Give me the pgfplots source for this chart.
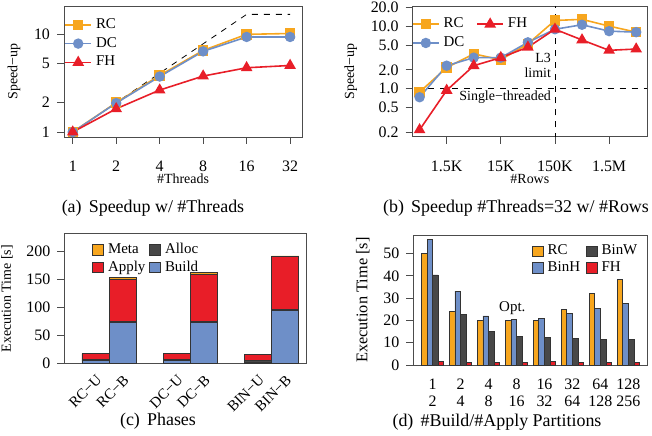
\documentclass[border=0pt]{standalone}
\usepackage{fontspec}
\setmainfont{Liberation Serif}
\usepackage{pgfplots}
\pgfplotsset{compat=1.18}
\definecolor{rcc}{RGB}{247,166,30}
\definecolor{dcc}{RGB}{110,143,200}
\definecolor{fhc}{RGB}{232,30,40}
\definecolor{gry}{RGB}{72,72,72}
\pgfplotsset{base/.style={scale only axis, anchor=north west,
  axis line style={black!70}, tick style={black!70, thin}, tick align=outside,
  major tick length=3.5bp, xtick pos=bottom, ytick pos=left,
  tick label style={font=\fontsize{8}{9}\selectfont},
  label style={font=\fontsize{7}{8}\selectfont},
  /pgf/number format/assume math mode=true,
  legend style={draw=none, fill=none, font=\fontsize{7.5}{8}\selectfont},
  legend cell align=left},
  ln/.style={line width=0.8pt, mark size=2.2pt},
  li/.style={legend image code/.code={\draw[mark repeat=2,mark phase=2,##1] plot coordinates {(0bp,0bp)(6.5bp,0bp)(13bp,0bp)};}},
  sq/.style={legend image code/.code={\draw[##1] (0bp,-2.7bp) rectangle (5.4bp,2.7bp);}}}
\begin{document}
\begin{tikzpicture}
\useasboundingbox (0,0) rectangle (326bp,-218bp);
% (a)
\begin{axis}[base, at={(32bp,-3bp)}, width=119bp, height=65.5bp,
  xmode=log, log basis x=2, ymode=log,
  xmin=0.87, xmax=38.7, ymin=0.89, ymax=19.5,
  xtick={1,2,4,8,16,32}, xticklabels={1,2,4,8,16,32},
  xticklabel style={yshift=-5bp},
  ytick={1,2,5,10}, yticklabels={1,2,5,10},
  xlabel={\#Threads}, ylabel={Speed−up},
  xlabel style={at={(axis description cs:0.5,-0.32)}, anchor=center},
  legend style={at={(-0.025,0.97)}, anchor=north west, row sep=-1pt}]
\addplot[black, dashed, thin, forget plot] coordinates {(1,1)(2,2)(4,4)(8,8)(16,16)(32,16)};
\addplot[ln, li, color=rcc, mark=square*] coordinates {(1,1)(2,2.0)(4,3.8)(8,6.85)(16,10.0)(32,10.2)};
\addlegendentry{RC}
\addplot[ln, li, color=dcc, mark=*] coordinates {(1,1)(2,1.98)(4,3.7)(8,6.7)(16,9.4)(32,9.4)};
\addlegendentry{DC}
\addplot[ln, li, color=fhc, mark=triangle*, mark size=2.6pt] coordinates {(1,1)(2,1.73)(4,2.69)(8,3.74)(16,4.55)(32,4.8)};
\addlegendentry{FH}
\end{axis}
\node[font=\fontsize{9}{10}\selectfont] at (76.5bp,-104bp) {(a)\hspace{0.4em}Speedup w/ \#Threads};
% (b)
\begin{axis}[base, at={(206.35bp,-3.35bp)}, width=117.15bp, height=65bp,
  ymode=log, xmin=-0.627, xmax=3.70, ymin=0.171, ymax=20.4,
  xtick={0,1,2,3}, xticklabels={1.5K,15K,150K,1.5M},
  xticklabel style={yshift=-5bp},
  ytick={0.2,0.5,1,2,5,10,20}, yticklabels={0.2,0.5,1.0,2.0,5.0,10.0,20.0},
  xlabel={\#Rows}, ylabel={Speed−up},
  xlabel style={at={(axis description cs:0.5,-0.325)}, anchor=center},
  legend columns=2, legend style={at={(-0.03,0.98)}, anchor=north west, row sep=-1pt,
    font=\fontsize{7.5}{8}\selectfont,
    /tikz/every even column/.append style={column sep=4bp}}]
\addlegendimage{ln, li, color=rcc, mark=square*}\addlegendentry{RC}
\addlegendimage{ln, li, color=fhc, mark=triangle*, mark size=2.6pt}\addlegendentry{FH}
\addlegendimage{ln, li, color=dcc, mark=*}\addlegendentry{DC}
\addplot[black, dashed, thin, forget plot] coordinates {(-1,1)(5,1)};
\addplot[black, dashed, thin, forget plot] coordinates {(2,0.1)(2,30)};
\addplot[ln, color=rcc, mark=square*, forget plot] coordinates {(-0.5,0.885)(0,2.17)(0.5,3.6)(1,2.9)(1.5,5.2)(2,12.3)(2.5,12.8)(3,10.0)(3.5,8.0)};
\addplot[ln, color=dcc, mark=*, forget plot] coordinates {(-0.5,0.73)(0,2.33)(0.5,3.13)(1,3.13)(1.5,5.5)(2,8.9)(2.5,10.5)(3,8.3)(3.5,8.0)};
\addplot[ln, color=fhc, mark=triangle*, mark size=2.6pt, forget plot] coordinates {(-0.5,0.22)(0,0.94)(0.5,2.33)(1,3.13)(1.5,4.6)(2,8.9)(2.5,6.0)(3,4.1)(3.5,4.3)};
\node[anchor=east, align=right, font=\fontsize{7}{7.5}\selectfont, inner sep=1pt] at (axis cs:1.97,2.35) {L3\\limit};
\node[anchor=east, font=\fontsize{7}{8}\selectfont, inner sep=1pt] at (axis cs:1.97,0.73) {Single−threaded};
\end{axis}
\node[font=\fontsize{9}{10}\selectfont] at (258bp,-104bp) {(b)\hspace{0.4em}Speedup \#Threads=32 w/ \#Rows};
% (c)
\begin{axis}[base, at={(32.15bp,-116.85bp)}, width=121.2bp, height=65bp,
  ybar stacked, bar width=1, xmin=-1.15, xmax=7.79, ymin=0, ymax=231,
  xtick={0,1,3,4,6,7}, xticklabels={RC−U,RC−B,DC−U,DC−B,BIN−U,BIN−B},
  xtick style={draw=none},
  xticklabel style={rotate=45, anchor=north east, inner sep=1pt, font=\fontsize{7.5}{8}\selectfont},
  ytick={0,50,100,150,200},
  ylabel={Execution Time [s]},
  legend columns=2, legend style={at={(0.09,0.99)}, anchor=north west, row sep=-2pt,
    /tikz/every even column/.append style={column sep=0bp}}]
\addlegendimage{sq, fill=rcc, draw=black!80}\addlegendentry{Meta}
\addlegendimage{sq, fill=gry, draw=black!80}\addlegendentry{Alloc}
\addlegendimage{sq, fill=fhc, draw=black!80}\addlegendentry{Apply}
\addlegendimage{sq, fill=dcc, draw=black!80}\addlegendentry{Build}
\addplot[fill=dcc, draw=black!80, forget plot] coordinates {(0,5)(1,74)(3,5)(4,74)(6,3)(7,95)};
\addplot[fill=gry, draw=black!80, forget plot] coordinates {(0,2.5)(1,1.5)(3,2.5)(4,1.5)(6,2)(7,1.5)};
\addplot[fill=fhc, draw=black!80, forget plot] coordinates {(0,10)(1,75)(3,10.5)(4,83)(6,11)(7,94.5)};
\addplot[fill=rcc, draw=black!80, forget plot] coordinates {(0,0.5)(1,3)(3,0.5)(4,4)(6,0.3)(7,0.5)};
\end{axis}
\node[font=\fontsize{9}{10}\selectfont] at (79bp,-210.5bp) {(c)\hspace{0.4em}Phases};
% (d)
\begin{axis}[base, at={(206.65bp,-117.65bp)}, width=117.2bp, height=64.85bp,
  ybar, bar width=0.2, xmin=-0.69, xmax=7.69, ymin=0, ymax=58.2,
  xtick={0,...,7}, xtick style={draw=none},
  xticklabels={1\\2,2\\4,4\\8,8\\16,16\\32,32\\64,64\\128,128\\256},
  xticklabel style={align=center, font=\fontsize{8}{8.5}\selectfont},
  ytick={0,10,20,30,40,50},
  ylabel={Execution Time [s]},
  ylabel style={font=\fontsize{8.2}{9}\selectfont},
  legend columns=2, legend style={at={(1.0,0.99)}, anchor=north east, row sep=-2pt,
    /tikz/every even column/.append style={column sep=1bp}}]
\addlegendimage{sq, fill=rcc, draw=black!80}\addlegendentry{RC}
\addlegendimage{sq, fill=gry, draw=black!80}\addlegendentry{BinW}
\addlegendimage{sq, fill=dcc, draw=black!80}\addlegendentry{BinH}
\addlegendimage{sq, fill=fhc, draw=black!80}\addlegendentry{FH}
\addplot[fill=rcc, draw=black!80, bar shift=0pt, forget plot] coordinates {(-0.3,50)(0.7,24)(1.7,20)(2.7,20)(3.7,20)(4.7,25)(5.7,32)(6.7,38.3)};
\addplot[fill=dcc, draw=black!80, bar shift=0pt, forget plot] coordinates {(-0.1,56.4)(0.9,33.2)(1.9,22)(2.9,20.3)(3.9,21)(4.9,23.3)(5.9,25.5)(6.9,27.7)};
\addplot[fill=gry, draw=black!80, bar shift=0pt, forget plot] coordinates {(0.1,40.4)(1.1,22.5)(2.1,15)(3.1,13)(4.1,12.3)(5.1,11.8)(6.1,11.6)(7.1,11.3)};
\addplot[fill=fhc, draw=black!80, bar shift=0pt, forget plot] coordinates {(0.3,1.6)(1.3,1.3)(2.3,1.2)(3.3,1.3)(4.3,1.5)(5.3,1.2)(6.3,1.2)(7.3,1.2)};
\node[font=\fontsize{7.5}{8}\selectfont] at (axis cs:2.85,25.5) {Opt.};
\end{axis}
\node[font=\fontsize{9}{10}\selectfont] at (248.5bp,-211bp) {(d)\hspace{0.4em}\#Build/\#Apply Partitions};
\end{tikzpicture}
\end{document}
